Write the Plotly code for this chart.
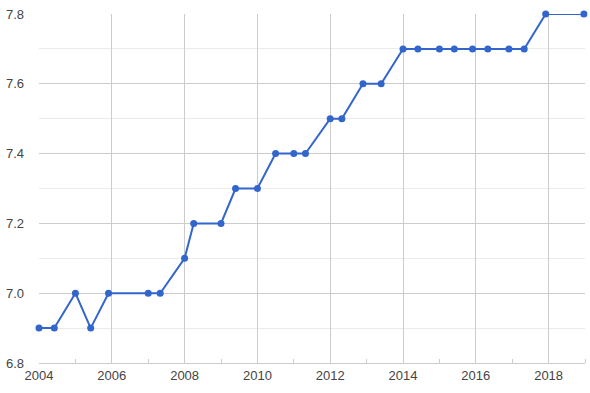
import plotly.graph_objects as go

years = [2004.0, 2004.42, 2005.0, 2005.42, 2005.91, 2007.0, 2007.33, 2008.0, 2008.25,
         2009.0, 2009.4, 2010.0, 2010.5, 2011.0, 2011.32, 2012.0, 2012.32, 2012.9, 2013.4,
         2014.0, 2014.41, 2015.0, 2015.41, 2015.91, 2016.33, 2016.91, 2017.33, 2017.92, 2018.97]
values = [6.9, 6.9, 7.0, 6.9, 7.0, 7.0, 7.0, 7.1, 7.2,
          7.2, 7.3, 7.3, 7.4, 7.4, 7.4, 7.5, 7.5, 7.6, 7.6,
          7.7, 7.7, 7.7, 7.7, 7.7, 7.7, 7.7, 7.7, 7.8, 7.8]
x_ticks = [2004, 2006, 2008, 2010, 2012, 2014, 2016, 2018]
y_ticks = [6.8, 7.0, 7.2, 7.4, 7.6, 7.8]

fig = go.Figure()
fig.add_trace(go.Scatter(
    x=years, y=values, mode="lines+markers",
    line=dict(color="#3366cc", width=2),
    marker=dict(color="#3366cc", size=7),
    cliponaxis=False, showlegend=False,
))

fig.update_layout(
    width=590, height=393,
    margin=dict(l=39, r=5, t=14, b=30),
    paper_bgcolor="white", plot_bgcolor="white",
    font=dict(family="Liberation Sans, Arial, sans-serif", size=13, color="#444444"),
    xaxis=dict(
        range=[2004, 2019], tickvals=x_ticks, ticktext=[str(v) for v in x_ticks],
        showgrid=True, gridcolor="#cccccc", gridwidth=1,
        zeroline=False, showline=True, linecolor="#cccccc", linewidth=1,
        ticks="", fixedrange=True,
        minor=dict(tickvals=[2005, 2007, 2009, 2011, 2013, 2015, 2017, 2019],
                   ticks="inside", ticklen=4, tickcolor="#cccccc", showgrid=False),
    ),
    yaxis=dict(
        range=[6.8, 7.8], tickvals=y_ticks, ticktext=["%.1f" % v for v in y_ticks],
        showgrid=True, gridcolor="#cccccc", gridwidth=1,
        zeroline=False, showline=False, ticks="",
        ticklabelstandoff=14,
        minor=dict(tickvals=[6.9, 7.1, 7.3, 7.5, 7.7], showgrid=True,
                   gridcolor="#ebebeb", gridwidth=1, ticks=""),
    ),
)

fig.write_html("out.html")
